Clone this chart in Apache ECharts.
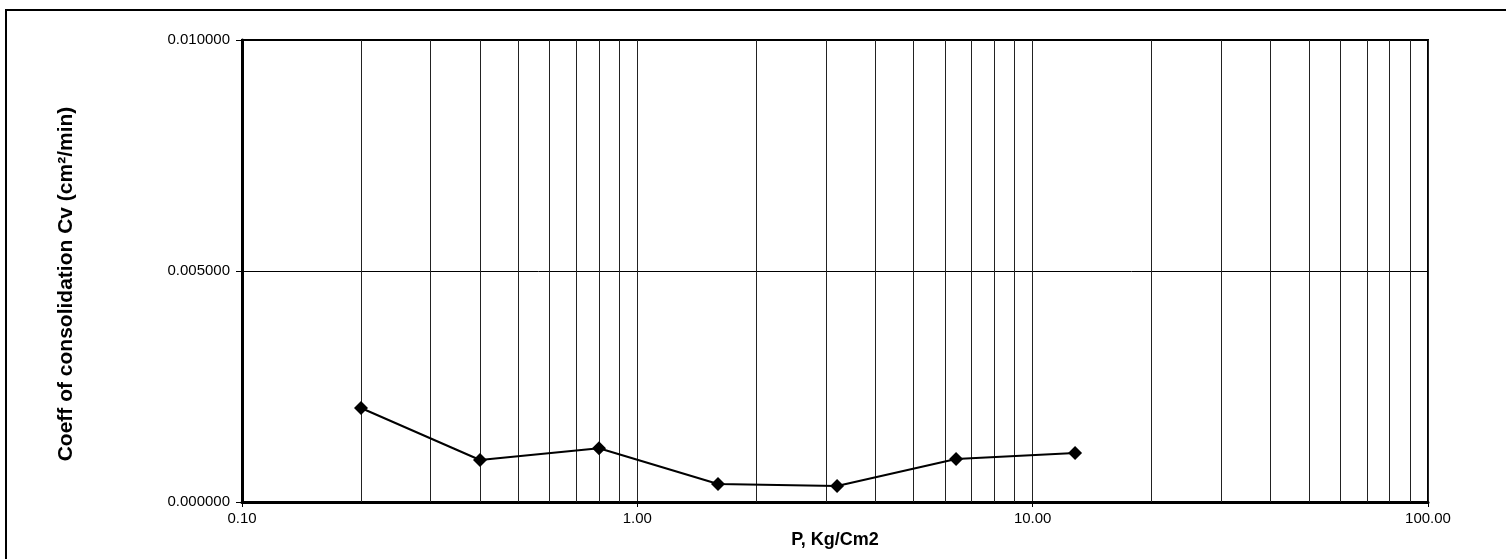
<!DOCTYPE html>
<html>
<head>
<meta charset="utf-8">
<script src="https://cdn.jsdelivr.net/npm/echarts@6/dist/echarts.min.js"></script>
<style>
html,body{margin:0;padding:0;background:#fff;}
#chart{width:1506px;height:559px;}
</style>
</head>
<body>
<div id="chart"></div>
<script>
// Data
var pressure = [0.2, 0.4, 0.8, 1.6, 3.2, 6.4, 12.8];
var cv = [0.002035, 0.000909, 0.001162, 0.000390, 0.000346, 0.000931, 0.001060];
// Minor vertical gridline positions (log cycle subdivisions)
var minorGrid = [0.2,0.3,0.4,0.5,0.6,0.7,0.8,0.9, 2,3,4,5,6,7,8,9, 20,30,40,50,60,70,80,90];
var xTitle = 'P, Kg/Cm2';
var yTitle = 'Coeff of consolidation Cv (cm\u00b2/min)';

var chart = echarts.init(document.getElementById('chart'), null, {renderer: 'canvas'});
var font = '"Liberation Sans", Arial, sans-serif';

chart.setOption({
  animation: false,
  backgroundColor: '#fff',
  graphic: [{
    type: 'rect',
    shape: {x: 6, y: 10, width: 1520, height: 600},
    style: {fill: 'none', stroke: '#000', lineWidth: 2},
    silent: true,
    z: -1
  }, {
    type: 'text',
    x: 66, y: 284,
    rotation: Math.PI / 2,
    style: {
      text: yTitle,
      font: 'bold 21px ' + font,
      fill: '#000',
      align: 'center',
      verticalAlign: 'middle'
    },
    silent: true
  }],
  grid: {
    left: 242, right: 78, top: 40, bottom: 57,
    show: true, borderColor: '#000', borderWidth: 2, backgroundColor: 'transparent'
  },
  xAxis: {
    type: 'log',
    logBase: 10,
    min: 0.1,
    max: 100,
    name: xTitle,
    nameLocation: 'middle',
    nameGap: 29,
    nameTextStyle: {fontFamily: font, fontWeight: 'bold', fontSize: 18, color: '#000'},
    axisLine: {show: true, onZero: false, lineStyle: {color: '#000', width: 3}},
    axisTick: {show: true, length: 5, lineStyle: {color: '#000', width: 1}},
    axisLabel: {
      fontFamily: font, fontSize: 15, color: '#000', margin: 9,
      formatter: function (v) { return Number(v).toFixed(2); }
    },
    splitLine: {show: true, lineStyle: {color: '#222', width: 1}},
    minorTick: {show: false},
    minorSplitLine: {show: false}
  },
  yAxis: {
    type: 'value',
    min: 0,
    max: 0.01,
    interval: 0.005,
    axisLine: {show: true, lineStyle: {color: '#000', width: 3}},
    axisTick: {show: true, length: 6, lineStyle: {color: '#000', width: 1}},
    axisLabel: {
      fontFamily: font, fontSize: 15, color: '#000', margin: 12,
      formatter: function (v) { return Number(v).toFixed(6); }
    },
    splitLine: {show: true, lineStyle: {color: '#000', width: 1}}
  },
  series: [{
    type: 'line',
    data: pressure.map(function (p, i) { return [p, cv[i]]; }),
    symbol: 'diamond',
    symbolSize: 14,
    lineStyle: {color: '#000', width: 2},
    itemStyle: {color: '#000'},
    z: 10,
    markLine: {
      silent: true,
      symbol: ['none', 'none'],
      label: {show: false},
      lineStyle: {color: '#222', width: 1, type: 'solid'},
      emphasis: {disabled: true},
      data: minorGrid.map(function (v) { return {xAxis: v}; }),
      z: 1
    }
  }]
});
</script>
</body>
</html>
